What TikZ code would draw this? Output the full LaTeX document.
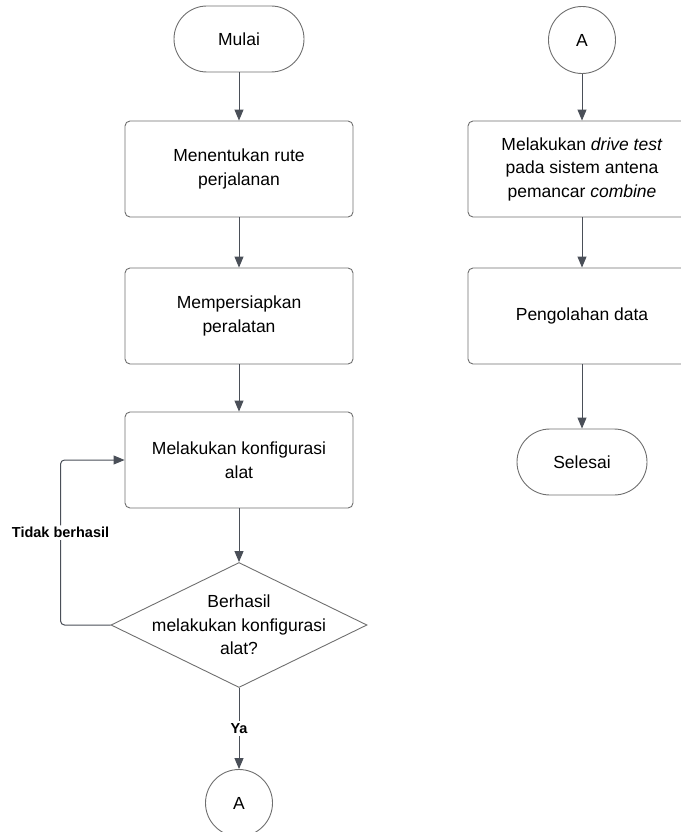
\documentclass[tikz,border=0pt]{standalone}
\usepackage{fontspec}
\setmainfont{Liberation Sans}
\usetikzlibrary{arrows.meta,shapes.geometric,positioning}
\definecolor{linegray}{HTML}{4A4F58}
\definecolor{edgegray}{HTML}{6F6F6F}

\begin{document}
\begin{tikzpicture}[x=1pt,y=-1pt,every node/.style={align=center,font=\fontsize{17.5}{23.5}\selectfont},
  terminal/.style={draw=edgegray,line width=0.9pt,rectangle,rounded corners=33pt,minimum width=130pt,minimum height=66pt},
  process/.style={draw=edgegray,line width=0.9pt,rectangle,rounded corners=5pt,minimum width=228pt,minimum height=96pt},
  decision/.style={draw=edgegray,line width=0.9pt,diamond,minimum width=256pt,minimum height=125pt,inner sep=0pt},
  connector/.style={draw=edgegray,line width=0.9pt,circle,minimum size=67pt,inner sep=0pt},
  flow/.style={draw=linegray,line width=1pt,-{Triangle[length=11pt,width=9pt]}},
  answer/.style={font=\fontsize{14.5}{17}\selectfont\bfseries,fill=white,inner sep=2pt}
]
\useasboundingbox (0,0) rectangle (680,832);

% left column
\node[terminal] (mulai) at (239,39) {Mulai};
\node[process] (rute) at (239,169) {Menentukan rute\\perjalanan};
\node[process] (siap) at (239,316) {Mempersiapkan\\peralatan};
\node[process] (konfig) at (239,460) {Melakukan konfigurasi\\alat};
\node[decision] (cek) at (239,625) {};
\node (cek-text) at (cek) {Berhasil\\melakukan konfigurasi\\alat?};
\node[connector] (a-out) at (239,803) {A};

% right column
\node[connector] (a-in) at (582,40) {A};
\node[process] (drive) at (582,169) {Melakukan \textit{drive test}\\pada sistem antena\\pemancar \textit{combine}};
\node[process] (olah) at (582,316) {Pengolahan data};
\node[terminal] (selesai) at (582,462) {Selesai};

\draw[flow] (mulai) -- (rute);
\draw[flow] (rute) -- (siap);
\draw[flow] (siap) -- (konfig);
\draw[flow] (konfig) -- (cek);
\draw[flow] (cek) -- node[answer] {Ya} (a-out);
\draw[flow,rounded corners=4pt] (cek.west) -- ++(-50,0) |- node[answer,pos=0.28] {Tidak berhasil} (konfig.west);

\draw[flow] (a-in) -- (drive);
\draw[flow] (drive) -- (olah);
\draw[flow] (olah) -- (selesai);
\end{tikzpicture}
\end{document}
